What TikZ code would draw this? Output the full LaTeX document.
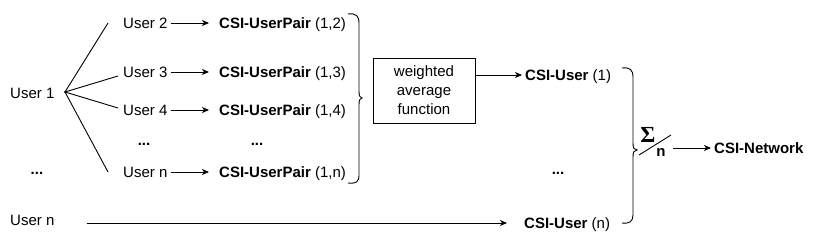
\documentclass[tikz,border=0pt]{standalone}
\usepackage{fontspec}
\setmainfont{Liberation Sans}
\newfontfamily\sigfont{Liberation Serif}
\usetikzlibrary{arrows.meta}
\begin{document}
\begin{tikzpicture}[x=1pt,y=-1pt,
  txt/.style={inner sep=0pt, anchor=west, text height=10.7pt, text depth=0pt, font=\fontsize{15}{18}\selectfont},
  dots/.style={inner sep=0pt, anchor=base, font=\fontsize{15}{18}\selectfont\bfseries},
  arr/.style={-{Stealth[length=7pt,width=6pt,inset=2pt]}, line width=0.9pt},
  ln/.style={line width=0.9pt},
  fbox/.style={draw, line width=0.9pt, minimum width=102pt, minimum height=65pt, inner sep=0pt, align=center, font=\fontsize{15}{19}\selectfont}]
\useasboundingbox (0,0) rectangle (830,243);

% left column
\node[txt] (u1) at (10,93) {User 1};
\node[dots] (ld) at (37,175) {...};
\node[txt] (un0) at (10,220) {User n};

% fan
\coordinate (f) at (65,92);
\coordinate (f2) at (108,23);
\coordinate (f3) at (118,76);
\coordinate (f4) at (118,108);
\coordinate (fn) at (108,172);
\draw[ln] (f2) -- (f) -- (f3);
\draw[ln] (f4) -- (f) -- (fn);

% users
\node[txt] (u2) at (123,23) {User 2};
\node[txt] (u3) at (123,72) {User 3};
\node[txt] (u4) at (123,110) {User 4};
\node[dots] (ud) at (144,146) {...};
\node[txt] (un) at (123,172) {User n};

% pairs
\node[txt] (p2) at (219,23) {\textbf{CSI-UserPair} (1,2)};
\node[txt] (p3) at (219,72) {\textbf{CSI-UserPair} (1,3)};
\node[txt] (p4) at (219,110) {\textbf{CSI-UserPair} (1,4)};
\node[dots] (pd) at (257,146) {...};
\node[txt] (pn) at (219,172) {\textbf{CSI-UserPair} (1,n)};

\foreach \a/\b in {u2/p2,u3/p3,u4/p4,un/pn}
  \draw[arr, shorten <=3pt, shorten >=10pt] (\a.east) -- (\b.west);

% brace 1
\draw[ln] (348,14) .. controls (356,13) and (359,16) .. (359,23) -- (359,91)
  .. controls (359,96) and (360,98) .. (362,98)
  .. controls (360,98) and (359,100) .. (359,105) -- (359,175)
  .. controls (359,182) and (356,184) .. (348,183);

% box
\node[fbox] (wf) at (424,90.5) {weighted\\average\\function};

% CSI-User
\node[txt] (c1) at (525,75) {\textbf{CSI-User} (1)};
\node[dots] (cd) at (558,175) {...};
\node[txt] (cn) at (524,223) {\textbf{CSI-User} (n)};
\draw[arr, shorten >=3pt] (wf.east |- c1.west) -- (c1.west);
\draw[arr, shorten <=32pt, shorten >=17pt] (un0.east |- cn.west) -- (cn.west);

% brace 2
\draw[ln] (622,68) .. controls (630,67) and (633,70) .. (633,77) -- (633,143)
  .. controls (633,148) and (634,150) .. (637,150)
  .. controls (634,150) and (633,152) .. (633,157) -- (633,215)
  .. controls (633,221) and (630,224) .. (622,223);

% sum / n
\node[inner sep=0pt, font=\fontsize{23}{23}\sigfont\bfseries] (sg) at (648,135) {Σ};
\coordinate (s1) at (639,155);
\coordinate (s2) at (671,135);
\draw[ln] (s1) -- (s2);
\node[inner sep=0pt, font=\fontsize{15}{18}\selectfont\bfseries] (nn) at (661,152) {n};

\node[txt] (net) at (714,148) {\textbf{CSI-Network}};
\coordinate (a0) at (673,148);
\draw[arr, shorten >=3pt] (a0) -- (net.west);
\end{tikzpicture}
\end{document}
